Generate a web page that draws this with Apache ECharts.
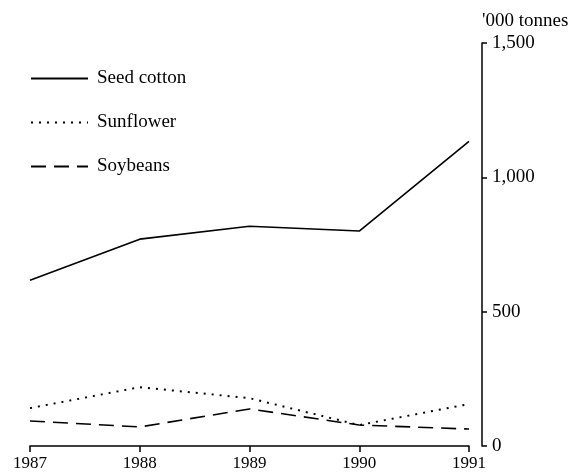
<!DOCTYPE html>
<html>
<head>
<meta charset="utf-8">
<script src="https://cdn.jsdelivr.net/npm/echarts@6/dist/echarts.min.js"></script>
<style>
  html, body { margin: 0; padding: 0; background: #fff; }
  #chart { width: 578px; height: 473px; }
</style>
</head>
<body>
<div id="chart"></div>
<script>
// years on the x axis
var years = ["1987", "1988", "1989", "1990", "1991"];
// production, '000 tonnes
var seedCotton = [617, 770, 818, 800, 1134];
var sunflower = [141, 219, 178, 78, 156];
var soybeans = [93, 71, 138, 78, 63];
var yTicks = [0, 500, 1000, 1500];

var font = "Liberation Serif, Times New Roman, serif";
var chart = echarts.init(document.getElementById("chart"));

chart.setOption({
  animation: false,
  backgroundColor: "#fff",
  textStyle: { fontFamily: font, color: "#000" },
  grid: { left: 30, right: 109, top: 43, bottom: 27 },
  legend: {
    orient: "vertical",
    left: 25,
    top: 64,
    itemWidth: 57,
    itemHeight: 16,
    itemGap: 25,
    // hide the symbol drawn in the middle of each legend line
    itemStyle: { opacity: 0 },
    textStyle: { fontFamily: font, fontSize: 19, color: "#000", padding: [0, 0, 0, 4] },
    data: ["Seed cotton", "Sunflower", "Soybeans"],
  },
  xAxis: {
    type: "category",
    data: years,
    boundaryGap: false,
    axisLine: { lineStyle: { color: "#000", width: 1.5 } },
    axisTick: { length: 6, lineStyle: { color: "#000", width: 1.5 } },
    axisLabel: { fontFamily: font, fontSize: 17, color: "#000", margin: 9 },
    splitLine: { show: false },
  },
  yAxis: {
    type: "value",
    position: "right",
    offset: 13,
    min: yTicks[0],
    max: yTicks[yTicks.length - 1],
    interval: 500,
    name: "'000 tonnes",
    nameLocation: "end",
    nameGap: 12,
    nameTextStyle: { fontFamily: font, fontSize: 19, color: "#000", align: "left" },
    axisLine: { show: true, lineStyle: { color: "#000", width: 1.5 } },
    axisTick: { show: true, length: 5, lineStyle: { color: "#000", width: 1.5 } },
    axisLabel: {
      fontFamily: font,
      fontSize: 19,
      color: "#000",
      margin: 10,
      formatter: function (v) {
        return v.toLocaleString("en-US");
      },
    },
    splitLine: { show: false },
  },
  series: [
    {
      name: "Seed cotton",
      type: "line",
      data: seedCotton,
      symbol: "none",
      lineStyle: { color: "#000", width: 1.6, type: "solid" },
      itemStyle: { color: "#000" },
    },
    {
      name: "Sunflower",
      type: "line",
      data: sunflower,
      symbol: "none",
      lineStyle: { color: "#000", width: 2, type: [2, 6] },
      itemStyle: { color: "#000" },
    },
    {
      name: "Soybeans",
      type: "line",
      data: soybeans,
      symbol: "none",
      lineStyle: { color: "#000", width: 1.6, type: [15, 8] },
      itemStyle: { color: "#000" },
    },
  ],
});
</script>
</body>
</html>
